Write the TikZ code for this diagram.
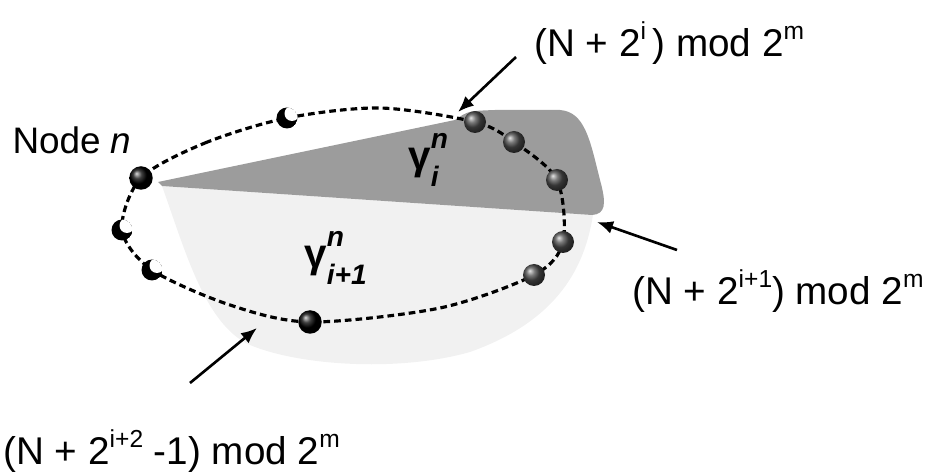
\documentclass[tikz,border=0pt]{standalone}
\usepackage{fontspec}
\setmainfont{Liberation Sans}
\usetikzlibrary{arrows.meta,calc}
\definecolor{wedgegrey}{HTML}{9C9C9C}
\definecolor{palegrey}{HTML}{F1F1F1}
\newcommand{\hi}[1]{\raisebox{10pt}{\fontsize{14}{14}\selectfont #1}}
\newcommand{\gam}[2]{\textbf{γ}\makebox[0pt][l]{\raisebox{0.52em}{\fontsize{16}{16}\selectfont\bfseries\itshape #1}}%
  \raisebox{-0.42em}{\fontsize{16}{16}\selectfont\bfseries\itshape #2}}
\tikzset{
  ring/.style={line width=1.8pt,dash pattern=on 3.8pt off 2.3pt},
  peerball/.style={circle,inner sep=0pt,minimum size=0.44cm,shading=ball,ball color=gray!60!black},
  ownball/.style={circle,inner sep=0pt,minimum size=0.47cm,shading=ball,ball color=black},
  emptyslot/.style={circle,inner sep=0pt,minimum size=0.42cm,path picture={
      \fill[black] (path picture bounding box.center) circle (0.21cm);
      \fill[white] ($(path picture bounding box.center)+(0.1cm,0.09cm)$) circle (0.15cm);}},
  pointer/.style={-{Latex[length=3.2mm,width=2.6mm]},line width=1.5pt},
  fingertext/.style={font=\fontsize{21}{25}\selectfont,inner sep=0pt},
  formulatext/.style={font=\fontsize{22}{26}\selectfont,inner sep=0pt},
  gammatext/.style={font=\fontsize{23}{27}\selectfont,inner sep=0pt}
}

\begin{document}
\begin{tikzpicture}[x=0.02cm,y=-0.02cm]
  \useasboundingbox (0,0) rectangle (937,472);

  % shaded intervals
  \fill[palegrey] (162,186) -- (593,215) .. controls (585,265) and (560,320) .. (470,352)
    .. controls (400,372) and (300,366) .. (250,345) .. controls (205,325) and (185,250) .. cycle;
  \fill[wedgegrey] (158,182) -- (455,120) .. controls (468,111) .. (495,110) -- (560,110)
    .. controls (585,112) and (590,140) .. (600,180) .. controls (607,205) and (605,214) .. (592,215)
    -- (162,186) -- cycle;

  % ring positions
  \coordinate (n0) at (141,178);
  \coordinate (s1) at (287,118);
  \coordinate (p1) at (475,122);
  \coordinate (p2) at (514,142);
  \coordinate (p3) at (557,180);
  \coordinate (p4) at (563,242);
  \coordinate (p5) at (534,275);
  \coordinate (p6) at (310,322);
  \coordinate (s3) at (152,270);
  \coordinate (s2) at (122,230);

  \draw[ring] plot[smooth cycle] coordinates {(n0) (205,143) (s1) (380,108) (p1) (p2) (p3)
    (p4) (p5) (440,308) (p6) (230,305) (s3) (s2)};

  \node[ownball] (own) at (n0) {};
  \node[ownball] (last) at (p6) {};
  \foreach \i in {1,...,5}
    \node[peerball] (peer\i) at (p\i) {};
  \node[emptyslot] (slot1) at (s1) {};
  \node[emptyslot] (slot2) at (s2) {};
  \node[emptyslot] (slot3) at (s3) {};

  % labels
  \node[fingertext] (nodename) at (72,140) {Node \textit{n}};
  \node[formulatext,anchor=base west] (first) at (534,57) {(N + 2\hi{i}\,) mod 2\hi{m}};
  \node[formulatext,anchor=base west] (second) at (632,305) {(N + 2\hi{i+1}) mod 2\hi{m}};
  \node[formulatext,anchor=base west] (third) at (3,465) {(N + 2\hi{i+2} -1) mod 2\hi{m}};
  \node[gammatext,anchor=base west] (gi) at (408,170) {\gam{n}{i}};
  \node[gammatext,anchor=base west] (gnext) at (304,268) {\gam{n}{i+1}};

  % pointers
  \coordinate (tailA) at (516,57);
  \coordinate (tipA) at (458,112);
  \coordinate (tailB) at (677,250);
  \coordinate (tipB) at (597,222);
  \coordinate (tailC) at (190,383);
  \coordinate (tipC) at (257,328);
  \draw[pointer] (tailA) -- (tipA);
  \draw[pointer] (tailB) -- (tipB);
  \draw[pointer] (tailC) -- (tipC);
\end{tikzpicture}
\end{document}
